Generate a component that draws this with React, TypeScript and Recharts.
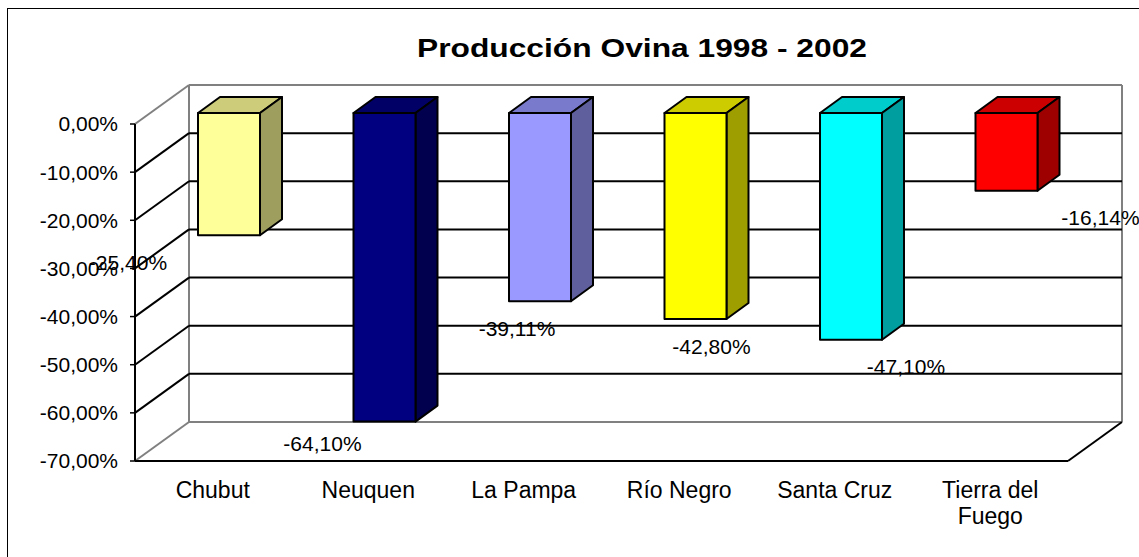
import React from "react";
import {
  BarChart,
  Bar,
  XAxis,
  YAxis,
  CartesianGrid,
  LabelList,
  Cell,
} from "recharts";

const provinces = ["Chubut", "Neuquen", "La Pampa", "Río Negro", "Santa Cruz", "Tierra del Fuego"];
const variation = [-25.4, -64.1, -39.11, -42.8, -47.1, -16.14];
const barColors = ["#FFFF99", "#000080", "#9999FF", "#FFFF00", "#00FFFF", "#FF0000"];
const yTicks = [0, -10, -20, -30, -40, -50, -60, -70];
const title = "Producción Ovina 1998 - 2002";

const FONT = "'Liberation Sans', Arial, sans-serif";
const W = 1139;
const H = 557;
const PLOT_TOP = 124;
const PLOT_BOTTOM = 461;

// 3d offsets: back wall, bar front face, bar depth
const WALL_DX = 54;
const WALL_DY = 39;
const FRONT_DX = 16;
const FRONT_DY = 11;
const DEPTH_DX = 22;
const DEPTH_DY = 16;

const data = provinces.map((name, i) => ({ name, value: variation[i] }));

const fmt = (v: number) => v.toFixed(2).replace(".", ",") + "%";

const shade = (hex: string, f: number) => {
  const n = parseInt(hex.slice(1), 16);
  const r = Math.round(((n >> 16) & 255) * f);
  const g = Math.round(((n >> 8) & 255) * f);
  const b = Math.round((n & 255) * f);
  return `rgb(${r},${g},${b})`;
};

// greedy word wrap by character count
const wrap = (s: string, max: number) => {
  const lines: string[] = [];
  let cur = "";
  s.split(" ").forEach((w) => {
    const next = cur ? cur + " " + w : w;
    if (next.length > max && cur) {
      lines.push(cur);
      cur = w;
    } else cur = next;
  });
  if (cur) lines.push(cur);
  return lines;
};

const Bar3D = (props: any) => {
  const { x, y, width, height, fill } = props;
  const top = Math.min(y, y + height) - FRONT_DY;
  const bottom = Math.max(y, y + height) - FRONT_DY;
  const fx = x + FRONT_DX;
  const pts = (arr: number[][]) => arr.map((p) => p.join(",")).join(" ");
  return (
    <g stroke="#000" strokeWidth={2} strokeLinejoin="round">
      <polygon
        points={pts([
          [fx, top],
          [fx + DEPTH_DX, top - DEPTH_DY],
          [fx + width + DEPTH_DX, top - DEPTH_DY],
          [fx + width, top],
        ])}
        fill={shade(fill, 0.8)}
      />
      <polygon
        points={pts([
          [fx + width, top],
          [fx + width + DEPTH_DX, top - DEPTH_DY],
          [fx + width + DEPTH_DX, bottom - DEPTH_DY],
          [fx + width, bottom],
        ])}
        fill={shade(fill, 0.62)}
      />
      <rect x={fx} y={top} width={width} height={bottom - top} fill={fill} />
    </g>
  );
};

const GridLine = (props: any) => {
  const { x1, x2, y1 } = props;
  const bx1 = x1 + WALL_DX;
  const bx2 = x2 + WALL_DX;
  const by = y1 - WALL_DY;
  const gray = "#808080";
  if (Math.abs(y1 - PLOT_TOP) < 1) {
    return (
      <g strokeWidth={2} fill="none">
        <line x1={x1} y1={y1} x2={bx1} y2={by} stroke={gray} />
        <line x1={bx1} y1={by} x2={bx2} y2={by} stroke={gray} />
        <line x1={bx1} y1={by} x2={bx1} y2={PLOT_BOTTOM - WALL_DY} stroke={gray} />
        <line x1={bx2} y1={by} x2={bx2} y2={PLOT_BOTTOM - WALL_DY} stroke={gray} />
      </g>
    );
  }
  if (Math.abs(y1 - PLOT_BOTTOM) < 1) {
    return (
      <g strokeWidth={2} fill="none">
        <line x1={x1} y1={y1} x2={bx1} y2={by} stroke={gray} />
        <line x1={bx1} y1={by} x2={bx2} y2={by} stroke={gray} />
        <line x1={x1} y1={y1} x2={x2} y2={y1} stroke="#000" />
        <line x1={x2} y1={y1} x2={bx2} y2={by} stroke="#000" />
      </g>
    );
  }
  return (
    <g strokeWidth={2} fill="none" stroke="#000">
      <line x1={x1} y1={y1} x2={bx1} y2={by} />
      <line x1={bx1} y1={by} x2={bx2} y2={by} />
    </g>
  );
};

const CategoryTick = (props: any) => {
  const { x, y, payload } = props;
  const lines = wrap(String(payload.value), 12);
  return (
    <text
      x={x}
      y={y + 37}
      textAnchor="middle"
      fontSize={23}
      fontFamily={FONT}
      fill="#000"
    >
      {lines.map((l, i) => (
        <tspan key={i} x={x} dy={i === 0 ? 0 : 26}>
          {l}
        </tspan>
      ))}
    </text>
  );
};

const ValueLabel = (props: any) => {
  const { x, y, width, height, value } = props;
  let idx = props.index;
  if (idx == null) idx = variation.indexOf(value);
  const cx = x + width / 2 + (idx - 2.18) * 39;
  const cy = Math.min(Math.max(y, y + height) + 16, 443);
  return (
    <text
      x={cx}
      y={cy}
      dy="0.36em"
      textAnchor="middle"
      fontSize={21}
      fontFamily={FONT}
      fill="#000"
    >
      {fmt(value)}
    </text>
  );
};

export default function App() {
  return (
    <div
      style={{
        position: "absolute",
        left: 0,
        top: 0,
        width: W,
        height: H,
        overflow: "hidden",
        background: "#fff",
      }}
    >
      <div
        style={{
          position: "absolute",
          left: 7,
          top: 8,
          width: W,
          height: H,
          border: "1px solid #000",
        }}
      />
      <svg
        width={W}
        height={80}
        style={{ position: "absolute", left: 0, top: 0 }}
      >
        <text
          x={642}
          y={57}
          textAnchor="middle"
          fontSize={26}
          fontWeight="bold"
          fontFamily={FONT}
          textLength={450}
          lengthAdjust="spacingAndGlyphs"
        >
          {title}
        </text>
      </svg>
      <div style={{ position: "absolute", left: 0, top: 0 }}>
        <BarChart
          width={W}
          height={H}
          data={data}
          margin={{ top: PLOT_TOP, right: 71, bottom: 36, left: 35 }}
          barSize={62}
        >
          <CartesianGrid
            horizontal={GridLine}
            vertical={false}
            syncWithTicks
          />
          <XAxis
            dataKey="name"
            interval={0}
            axisLine={false}
            tickLine={false}
            tickSize={0}
            tickMargin={0}
            height={60}
            tick={CategoryTick}
          />
          <YAxis
            type="number"
            domain={[-70, 0]}
            ticks={yTicks}
            width={100}
            tickSize={5}
            tickMargin={12}
            tickFormatter={fmt}
            axisLine={{ stroke: "#000", strokeWidth: 2 }}
            tickLine={{ stroke: "#000", strokeWidth: 1.5 }}
            tick={{ fontSize: 21, fill: "#000", fontFamily: FONT }}
          />
          <Bar dataKey="value" shape={Bar3D} isAnimationActive={false}>
            {data.map((_, i) => (
              <Cell key={i} fill={barColors[i]} />
            ))}
            <LabelList dataKey="value" content={ValueLabel} />
          </Bar>
        </BarChart>
      </div>
    </div>
  );
}
